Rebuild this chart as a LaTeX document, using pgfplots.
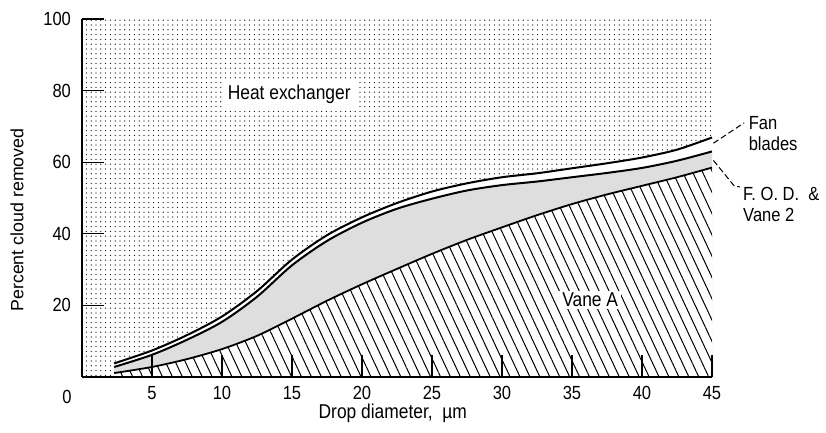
\documentclass[border=0pt]{standalone}
\usepackage{fontspec}
\setmainfont{Liberation Sans}[FakeStretch=0.87]
\newfontfamily\ylfont{Liberation Sans}
\usepackage{pgfplots}
\usepackage{pgfplotstable}
\pgfplotsset{compat=1.18}
\usetikzlibrary{patterns.meta}

\pgfplotstableread{
x y
2.3 3.8
5 7.4
7.5 11.7
10 16.9
12.5 24
15 32.8
17.5 39.6
20 44.6
22.5 48.6
25 51.8
27.5 54.1
30 55.8
32.5 56.9
35 58.3
37.5 59.7
40 61.3
42.5 63.5
45 66.9
}\fanupperdata

\pgfplotstableread{
x y
2.3 2.8
5 6.2
7.5 10.4
10 15.4
12.5 22.4
15 31.2
17.5 38
20 43.1
22.5 47
25 49.8
27.5 52.1
30 53.6
32.5 54.6
35 55.8
37.5 57
40 58.4
42.5 60.4
45 63
}\fodlowerdata

\pgfplotstableread{
x y
2.3 1.1
5 2.8
7.5 5
10 7.8
12.5 11.5
15 16.3
17.5 21.3
20 25.9
22.5 30.2
25 34.4
27.5 38.3
30 41.8
32.5 45.2
35 48.3
37.5 51
40 53.4
42.5 55.8
45 58.5
}\vaneAdata

\begin{document}
\begin{tikzpicture}
\useasboundingbox (-41pt,-28pt) rectangle (372pt,188.5pt);
\begin{axis}[
  at={(0,0)}, anchor=south west,
  scale only axis, width=315pt, height=179pt,
  xmin=0, xmax=45, ymin=0, ymax=100,
  axis x line=bottom, axis y line=left,
  axis line style={-, line width=0.8pt},
  axis on top,
  clip=false,
  xtick={5,10,...,45}, ytick={20,40,...,100},
  tick align=inside, major tick length=11pt,
  every tick/.style={black, line width=0.6pt},
  tick label style={font=\fontsize{9.5}{10}\selectfont},
  xticklabel style={yshift=-1pt},
  yticklabel style={xshift=-2pt},
  /pgf/number format/assume math mode=true,
]
\addplot[draw=none, pattern={Dots[distance=2.4pt, radius=0.32pt]}] coordinates {(0,100) (45,100)} \closedcycle;
\addplot[draw=none, fill=white, smooth] table[x=x,y=y] {\fanupperdata} \closedcycle;
\addplot[draw=none, fill=black!13, smooth] table[x=x,y=y] {\fodlowerdata} \closedcycle;
\addplot[draw=none, fill=white, smooth] table[x=x,y=y] {\vaneAdata} \closedcycle;
\addplot[draw=none, pattern={Lines[angle=-65, distance=4.5pt, line width=0.5pt]}, smooth] table[x=x,y=y] {\vaneAdata} \closedcycle;
\addplot[black, line width=1pt, smooth] table[x=x,y=y] {\fanupperdata};
\addplot[black, line width=1pt, smooth] table[x=x,y=y] {\fodlowerdata};
\addplot[black, line width=0.9pt, smooth] table[x=x,y=y] {\vaneAdata};

\node[fill=white, inner xsep=2.5pt, inner ysep=2pt, font=\fontsize{10}{11}\selectfont] at (axis cs:14.8,79) {Heat exchanger};
\node[fill=white, inner xsep=1.5pt, inner ysep=1pt, font=\fontsize{10}{11}\selectfont] at (axis cs:36.3,21.5) {Vane A};
\node[anchor=west, align=left, inner sep=0pt, font=\fontsize{9.5}{10.5}\selectfont] at (axis cs:47.6,67.9) {Fan\\blades};
\node[anchor=west, align=left, inner sep=0pt, font=\fontsize{9.5}{10.5}\selectfont] at (axis cs:47.2,48.3) {F. O. D. \ \&\\Vane 2};
\draw[dash pattern=on 3pt off 1.5pt, line width=0.5pt] (axis cs:45.1,65.3) -- (axis cs:47.3,71);
\draw[dash pattern=on 3pt off 1.5pt, line width=0.5pt] (axis cs:45.1,60.5) -- (axis cs:46.6,53.3) -- (axis cs:47.0,53.1);

\node[rotate=90, font=\ylfont\fontsize{8.9}{10}\selectfont] at ([xshift=-32.5pt]rel axis cs:0,0.4385) {Percent cloud removed};
\node[font=\fontsize{10}{12}\selectfont] at ([yshift=-18pt]axis cs:22.2,0) {Drop diameter,\ \ µm};
\node[font=\fontsize{9.5}{10}\selectfont] at ([xshift=-7.5pt,yshift=-10pt]axis cs:0,0) {0};
\end{axis}
\end{tikzpicture}
\end{document}
